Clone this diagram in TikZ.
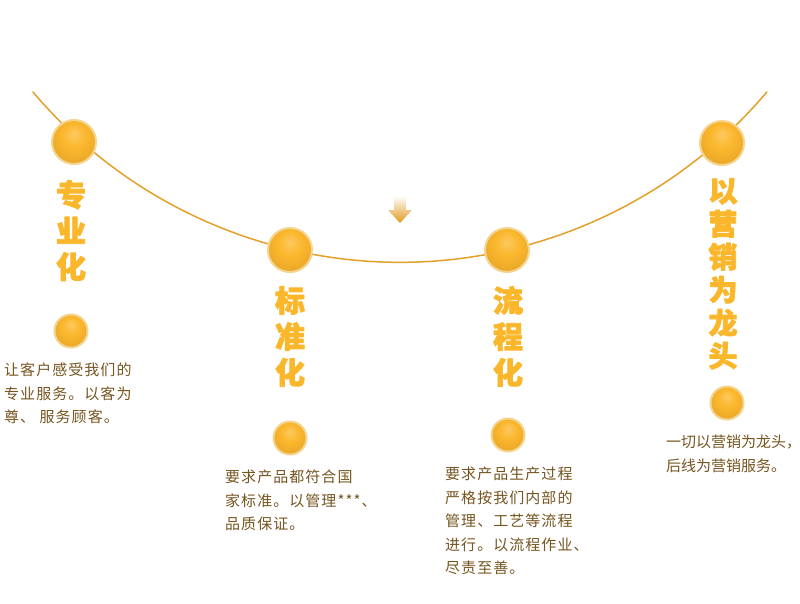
\documentclass[tikz,border=0pt]{standalone}
\usepackage{fontspec}
\newfontfamily\cjk[FakeBold=2.5]{Noto Sans CJK SC}
\newfontfamily\cjkbody[LetterSpace=7]{Noto Sans CJK SC}
\newfontfamily\cjkplain{Noto Sans CJK SC}
\usepackage{tikz}

\definecolor{linec}{HTML}{E2A128}
\definecolor{ringc}{HTML}{F4D48E}
\definecolor{titlec}{HTML}{FBB72C}
\definecolor{textc}{HTML}{765520}
\definecolor{arrowc}{HTML}{E0981C}
\pgfdeclareradialshading{goldball}{\pgfpoint{0bp}{10bp}}{color(0bp)=(titlec!75!white);color(14bp)=(titlec);color(35bp)=(linec);color(50bp)=(arrowc)}

\begin{document}
\begin{tikzpicture}[line cap=round,line join=round,x=1pt,y=-1pt,
    bigball/.style={circle,minimum size=44pt,inner sep=0pt,draw=ringc,line width=2pt,shading=goldball},
    smallball/.style={bigball,minimum size=33pt},
    title/.style={anchor=north,inner sep=0pt,text=titlec,align=center,font=\cjk\bfseries\fontsize{30}{36}\selectfont},
    desc/.style={anchor=north west,inner sep=0pt,text=textc,align=left,font=\cjkbody\fontsize{15}{23.5}\selectfont}]
        \fill [white] (0,0) rectangle (800,603);
        \useasboundingbox (0,0) rectangle (800,603);
        % the bow
        \draw [linec,line width=1.5pt] (33,92) arc[start angle=220.2,end angle=319.8,radius=480.4pt];
        \shade [top color=white,bottom color=arrowc] (394,196) -- (406,196) -- (406,210) -- (412,210) -- (400,223) -- (388,210) -- (394,210) -- cycle;
        % balls on the bow
        \node [bigball] (b1) at (74,142) {};
        \node [bigball] (b2) at (290,250) {};
        \node [bigball] (b3) at (507,250) {};
        \node [bigball] (b4) at (722,143) {};
        % titles
        \node [title] (t1) at (71,180) {专\\业\\化};
        \node [title] (t2) at (290,286) {标\\准\\化};
        \node [title] (t3) at (508,286) {流\\程\\化};
        \node [title,font=\cjk\bfseries\fontsize{29}{33}\selectfont] (t4) at (723,178) {以\\营\\销\\为\\龙\\头};
        % small balls
        \node [smallball] (s1) at (71,331) {};
        \node [smallball] (s2) at (290,438) {};
        \node [smallball] (s3) at (508,435) {};
        \node [smallball] (s4) at (727,403) {};
        % texts
        \node [desc] (d1) at (4,363) {让客户感受我们的\\专业服务。以客为\\尊、 服务顾客。};
        \node [desc] (d2) at (225,470) {要求产品都符合国\\家标准。以管理***、\\品质保证。};
        \node [desc] (d3) at (445,467) {要求产品生产过程\\严格按我们内部的\\管理、工艺等流程\\进行。以流程作业、\\尽责至善。};
        \node [desc,font=\cjkplain\fontsize{15}{24}\selectfont] (d4) at (666,435) {一切以营销为龙头，\\后线为营销服务。};
    \end{tikzpicture}
\end{document}
